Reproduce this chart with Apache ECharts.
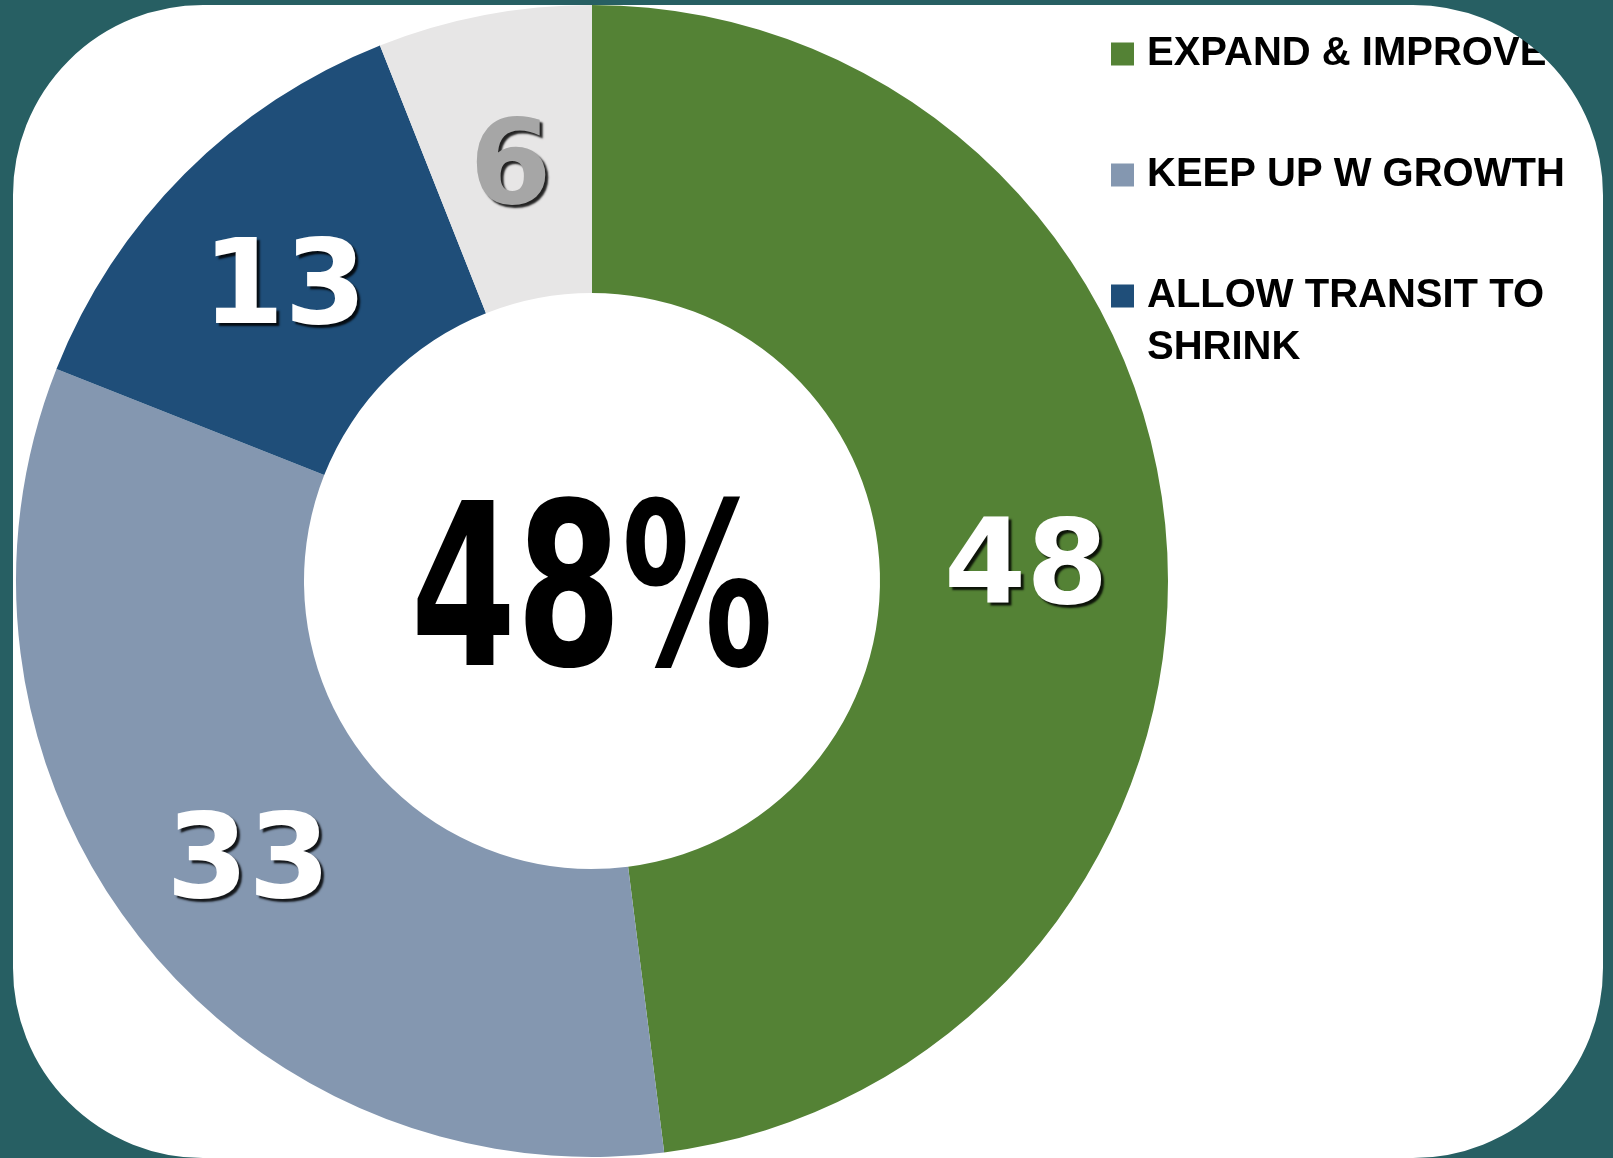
<!DOCTYPE html>
<html>
<head>
<meta charset="utf-8">
<script src="https://cdn.jsdelivr.net/npm/echarts@6/dist/echarts.min.js"></script>
<style>
  html, body { margin: 0; padding: 0; background: #275f63; }
  #chart { width: 1613px; height: 1158px; }
</style>
</head>
<body>
<div id="chart"></div>
<script>
var categories = ['EXPAND & IMPROVE', 'KEEP UP W GROWTH', 'ALLOW TRANSIT TO SHRINK', 'NO OPINION'];
var values = [48, 33, 13, 6];
var legendTop = ['EXPAND & IMPROVE', 'KEEP UP W GROWTH'];
var legendBottom = ['ALLOW TRANSIT TO SHRINK'];
var colors = ['#548235', '#8497b0', '#1f4e79', '#e7e6e6'];
var labelColors = ['#ffffff', '#ffffff', '#ffffff', '#a6a6a6'];

var teal = '#275f63';
var legendFont = {
    fontFamily: '"Liberation Sans", Arial, sans-serif',
    fontWeight: 'bold',
    fontSize: 40,
    lineHeight: 52,
    color: '#000'
};

var chartDom = document.getElementById('chart');
var myChart = echarts.init(chartDom);
var option;

var pieData = categories.map(function (name, i) {
    return {
        name: name,
        value: values[i],
        itemStyle: { color: colors[i] },
        label: { color: labelColors[i] }
    };
});

// square marker plus an invisible point, so the text sits a bit further right
// (and, for the two-line entry, the square lines up with the first line)
var iconOne = 'path://M0,0H23V23H0Z M31,22.99H31.01V23H31Z';
var iconTwo = 'path://M0,0H23V23H0Z M31,74.99H31.01V75H31Z';

// panel frame: thick teal stroke whose inner edge is the white rounded panel
var fw = 600;

option = {
    backgroundColor: '#ffffff',
    animation: false,
    legend: [
        {
            orient: 'vertical',
            left: 1111,
            top: 28,
            padding: 0,
            itemWidth: 31,
            itemHeight: 23,
            itemGap: 69,
            icon: iconOne,
            selectedMode: false,
            data: legendTop,
            textStyle: legendFont
        },
        {
            orient: 'vertical',
            left: 1111,
            top: 270,
            padding: 0,
            itemWidth: 31,
            itemHeight: 75,
            icon: iconTwo,
            selectedMode: false,
            data: legendBottom,
            formatter: function (name) {
                return name.replace('TO ', 'TO\n');
            },
            textStyle: legendFont
        }
    ],
    graphic: [
        {
            type: 'text',
            x: 592,
            y: 606,
            scaleX: 0.67,
            z: 10,
            silent: true,
            style: {
                text: values[0] + '%',
                fontFamily: '"DejaVu Sans", sans-serif',
                fontWeight: 'bold',
                fontSize: 226,
                fill: '#000',
                align: 'center',
                verticalAlign: 'middle'
            }
        },
        {
            type: 'rect',
            z: 100,
            silent: true,
            shape: {
                x: 13 - fw / 2,
                y: 5 - fw / 2,
                width: 1590 + fw,
                height: 1153 + fw,
                r: 190 + fw / 2
            },
            style: {
                fill: null,
                stroke: teal,
                lineWidth: fw
            }
        }
    ],
    series: [
        {
            name: 'Transit',
            type: 'pie',
            center: [592, 581],
            radius: [288, 576],
            startAngle: 90,
            clockwise: true,
            avoidLabelOverlap: false,
            emphasis: { disabled: true },
            itemStyle: { borderWidth: 0 },
            label: {
                show: true,
                position: 'inside',
                // empty first line nudges the number down to the ring's middle
                formatter: '\n{c}',
                fontFamily: '"DejaVu Sans", sans-serif',
                fontWeight: 'bold',
                fontSize: 118,
                lineHeight: 38,
                textShadowColor: 'rgba(0,0,0,0.85)',
                textShadowBlur: 2,
                textShadowOffsetX: 3,
                textShadowOffsetY: 3
            },
            labelLine: { show: false },
            data: pieData
        }
    ]
};

option && myChart.setOption(option);
</script>
</body>
</html>
